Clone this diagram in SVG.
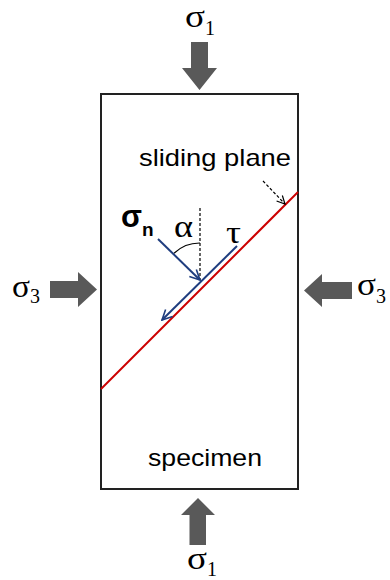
<svg xmlns="http://www.w3.org/2000/svg" width="390" height="580" viewBox="0 0 390 580">
<style>
.serif{font-family:"Liberation Serif","Times New Roman",serif;fill:#000}
.sans{font-family:"Liberation Sans",Arial,sans-serif;fill:#000}
.load{fill:#595959}
.sig{font-size:31px}
.sub{font-size:20px}
</style>
<defs>
<marker id="openB" viewBox="0 0 12 12" refX="11" refY="6" markerWidth="12" markerHeight="12" markerUnits="userSpaceOnUse" orient="auto">
<path d="M1,1 L11,6 L1,11" fill="none" stroke="#1f3d7f" stroke-width="1.6"/>
</marker>
<marker id="openK" viewBox="0 0 10 10" refX="9" refY="5" markerWidth="10" markerHeight="10" markerUnits="userSpaceOnUse" orient="auto">
<path d="M1,1 L9,5 L1,9" fill="none" stroke="#000" stroke-width="1.2"/>
</marker>
</defs>
<g id="specimen">
<rect x="101" y="94" width="197" height="395" fill="#fff" stroke="#222" stroke-width="2"/>
<text class="sans" x="148" y="466" font-size="24" textLength="114" lengthAdjust="spacingAndGlyphs">specimen</text>
</g>
<g id="sliding-plane">
<line x1="101" y1="389" x2="298" y2="192" stroke="#cc0000" stroke-width="2"/>
<text class="sans" x="139" y="166" font-size="24" textLength="152" lengthAdjust="spacingAndGlyphs">sliding plane</text>
</g>
<g id="sigma1-top">
<polygon class="load" points="191,42 208,42 208,68 217,68 199.5,90 182,68 191,68"/>
<text class="serif sig" x="185" y="27" textLength="20" lengthAdjust="spacingAndGlyphs">σ</text>
<text class="serif sub" x="205" y="35">1</text>
</g>
<g id="sigma1-bottom">
<polygon class="load" points="189.5,545 206,545 206,515 215,515 198,498 181,515 189.5,515"/>
<text class="serif sig" x="187" y="569" textLength="20" lengthAdjust="spacingAndGlyphs">σ</text>
<text class="serif sub" x="207" y="576">1</text>
</g>
<g id="sigma3-left">
<polygon class="load" points="50,281 78,281 78,272 97,289.5 78,307 78,298 50,298"/>
<text class="serif sig" x="12" y="297" textLength="18" lengthAdjust="spacingAndGlyphs">σ</text>
<text class="serif sub" x="30" y="303">3</text>
</g>
<g id="sigma3-right">
<polygon class="load" points="352,282 322,282 322,274 304,290.5 322,307 322,299 352,299"/>
<text class="serif sig" x="357" y="295" textLength="19" lengthAdjust="spacingAndGlyphs">σ</text>
<text class="serif sub" x="376" y="303">3</text>
</g>
<g id="stresses">
<text class="sans" x="121" y="227" font-size="31" font-weight="bold" textLength="21" lengthAdjust="spacingAndGlyphs">σ</text>
<text class="sans" x="142" y="236" font-size="19" font-weight="bold">n</text>
<text class="serif" x="174" y="237" font-size="32" textLength="19" lengthAdjust="spacingAndGlyphs">α</text>
<text class="serif" x="226" y="243" font-size="32" textLength="15" lengthAdjust="spacingAndGlyphs">τ</text>
</g>
<g id="connectors">
<line x1="200" y1="208" x2="200" y2="280" stroke="#000" stroke-width="1.2" stroke-dasharray="3,2"/>
<path d="M174,253.3 A37,37 0 0 1 200,243" fill="none" stroke="#000" stroke-width="1.2"/>
<line x1="158" y1="239" x2="200" y2="280" stroke="#1f3d7f" stroke-width="2" marker-end="url(#openB)"/>
<line x1="237" y1="246" x2="162" y2="320" stroke="#1f3d7f" stroke-width="2" marker-end="url(#openB)"/>
<line x1="263" y1="181" x2="285" y2="204" stroke="#000" stroke-width="1.2" stroke-dasharray="3,2" marker-end="url(#openK)"/>
</g>
</svg>
